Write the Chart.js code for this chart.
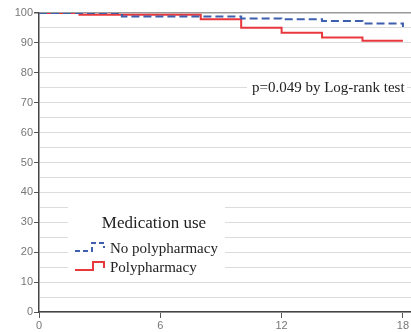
<!DOCTYPE html>
<html><head><meta charset="utf-8">
<script src="https://cdn.jsdelivr.net/npm/chart.js@4/dist/chart.umd.min.js"></script>
<style>html,body{margin:0;padding:0;background:#fff;}#wrap{width:411px;height:332px;position:relative;}</style>
</head><body><div id="wrap"><canvas id="c" width="411" height="332"></canvas></div>
<script>
const seriesNames = ['No polypharmacy', 'Polypharmacy'];
const noPolyTimes = [0, 4.1, 10, 12, 14, 16, 18];
const noPolyValues = [100, 98.8, 98.2, 97.9, 97.3, 96.5, 95.3];
const polyTimes = [0, 2, 8, 10, 12, 14, 16, 18];
const polyValues = [100, 99.4, 97.9, 95.1, 93.4, 91.8, 90.7, 90.7];
const xTickValues = [0, 6, 12, 18];
const legendTitle = 'Medication use';
const pText = 'p=0.049 by Log-rank test';

const toPts = (t, v) => t.map((x, i) => ({x, y: v[i]}));
const BLUE = '#3d5fae', RED = '#e8383d';

const overlay = {
  id: 'overlay',
  afterDatasetsDraw(chart) {
    const ctx = chart.ctx;
    ctx.save();
    // legend box
    ctx.fillStyle = '#fff';
    ctx.fillRect(68, 199, 157, 80);
    ctx.fillStyle = '#222';
    ctx.font = '17px "Liberation Serif", "Times New Roman", serif';
    ctx.textAlign = 'center'; ctx.textBaseline = 'alphabetic';
    ctx.fillText(legendTitle, 154, 228);
    ctx.font = '15px "Liberation Serif", "Times New Roman", serif';
    ctx.textAlign = 'left';
    ctx.fillText(seriesNames[0], 110, 253);
    ctx.fillText(seriesNames[1], 110, 272);
    // icons
    ctx.lineWidth = 2;
    ctx.strokeStyle = BLUE; ctx.setLineDash([5, 3]);
    ctx.beginPath(); ctx.moveTo(75, 251); ctx.lineTo(92, 251); ctx.lineTo(92, 243); ctx.lineTo(104, 243); ctx.lineTo(104, 248); ctx.stroke();
    ctx.setLineDash([]);
    ctx.strokeStyle = RED;
    ctx.beginPath(); ctx.moveTo(75, 270); ctx.lineTo(93, 270); ctx.lineTo(93, 262); ctx.lineTo(104, 262); ctx.lineTo(104, 268); ctx.stroke();
    // p-value annotation
    ctx.fillStyle = '#fff';
    ctx.fillRect(247, 79, 160, 17);
    ctx.fillStyle = '#222';
    ctx.font = '15px "Liberation Serif", "Times New Roman", serif';
    ctx.textAlign = 'left'; ctx.textBaseline = 'middle';
    ctx.fillText(pText, 252, 88);
    ctx.restore();
  }
};

new Chart(document.getElementById('c'), {
  type: 'line',
  data: {
    datasets: [
      {label: seriesNames[0], data: toPts(noPolyTimes, noPolyValues), borderColor: BLUE, borderWidth: 2, borderDash: [8, 4], stepped: 'before', pointRadius: 0, fill: false},
      {label: seriesNames[1], data: toPts(polyTimes, polyValues), borderColor: RED, borderWidth: 2, stepped: 'before', pointRadius: 0, fill: false}
    ]
  },
  options: {
    responsive: false, animation: false, devicePixelRatio: 1,
    layout: {padding: {top: 13, right: 0, left: 0, bottom: 0}},
    plugins: {legend: {display: false}, tooltip: {enabled: false}},
    scales: {
      x: {
        type: 'linear', min: 0, max: 18.4,
        afterBuildTicks: s => { s.ticks = xTickValues.map(v => ({value: v})); },
        afterFit: s => { s.height = 20; },
        grid: {drawOnChartArea: false, drawTicks: true, tickLength: 6, tickColor: '#555'},
        border: {color: '#444', width: 1.5},
        ticks: {color: '#777', font: {family: '"Liberation Sans", Arial, sans-serif', size: 11}, padding: 1, maxRotation: 0, autoSkip: false}
      },
      y: {
        min: 0, max: 100,
        afterFit: s => { s.width = 39; },
        grid: {
          color: c => c.tick && c.tick.value === 100 ? '#999' : '#dcdcdc',
          tickColor: c => c.tick && c.tick.value % 10 === 0 ? '#555' : 'rgba(0,0,0,0)',
          tickLength: 5, lineWidth: c => c.tick && c.tick.value === 100 ? 1.5 : 1
        },
        border: {color: '#444', width: 1.5},
        ticks: {stepSize: 5, autoSkip: false, color: '#777', padding: 1,
          font: {family: '"Liberation Sans", Arial, sans-serif', size: 11},
          callback: v => v % 10 === 0 ? String(v) : ''}
      }
    }
  },
  plugins: [overlay]
});
</script></body></html>
